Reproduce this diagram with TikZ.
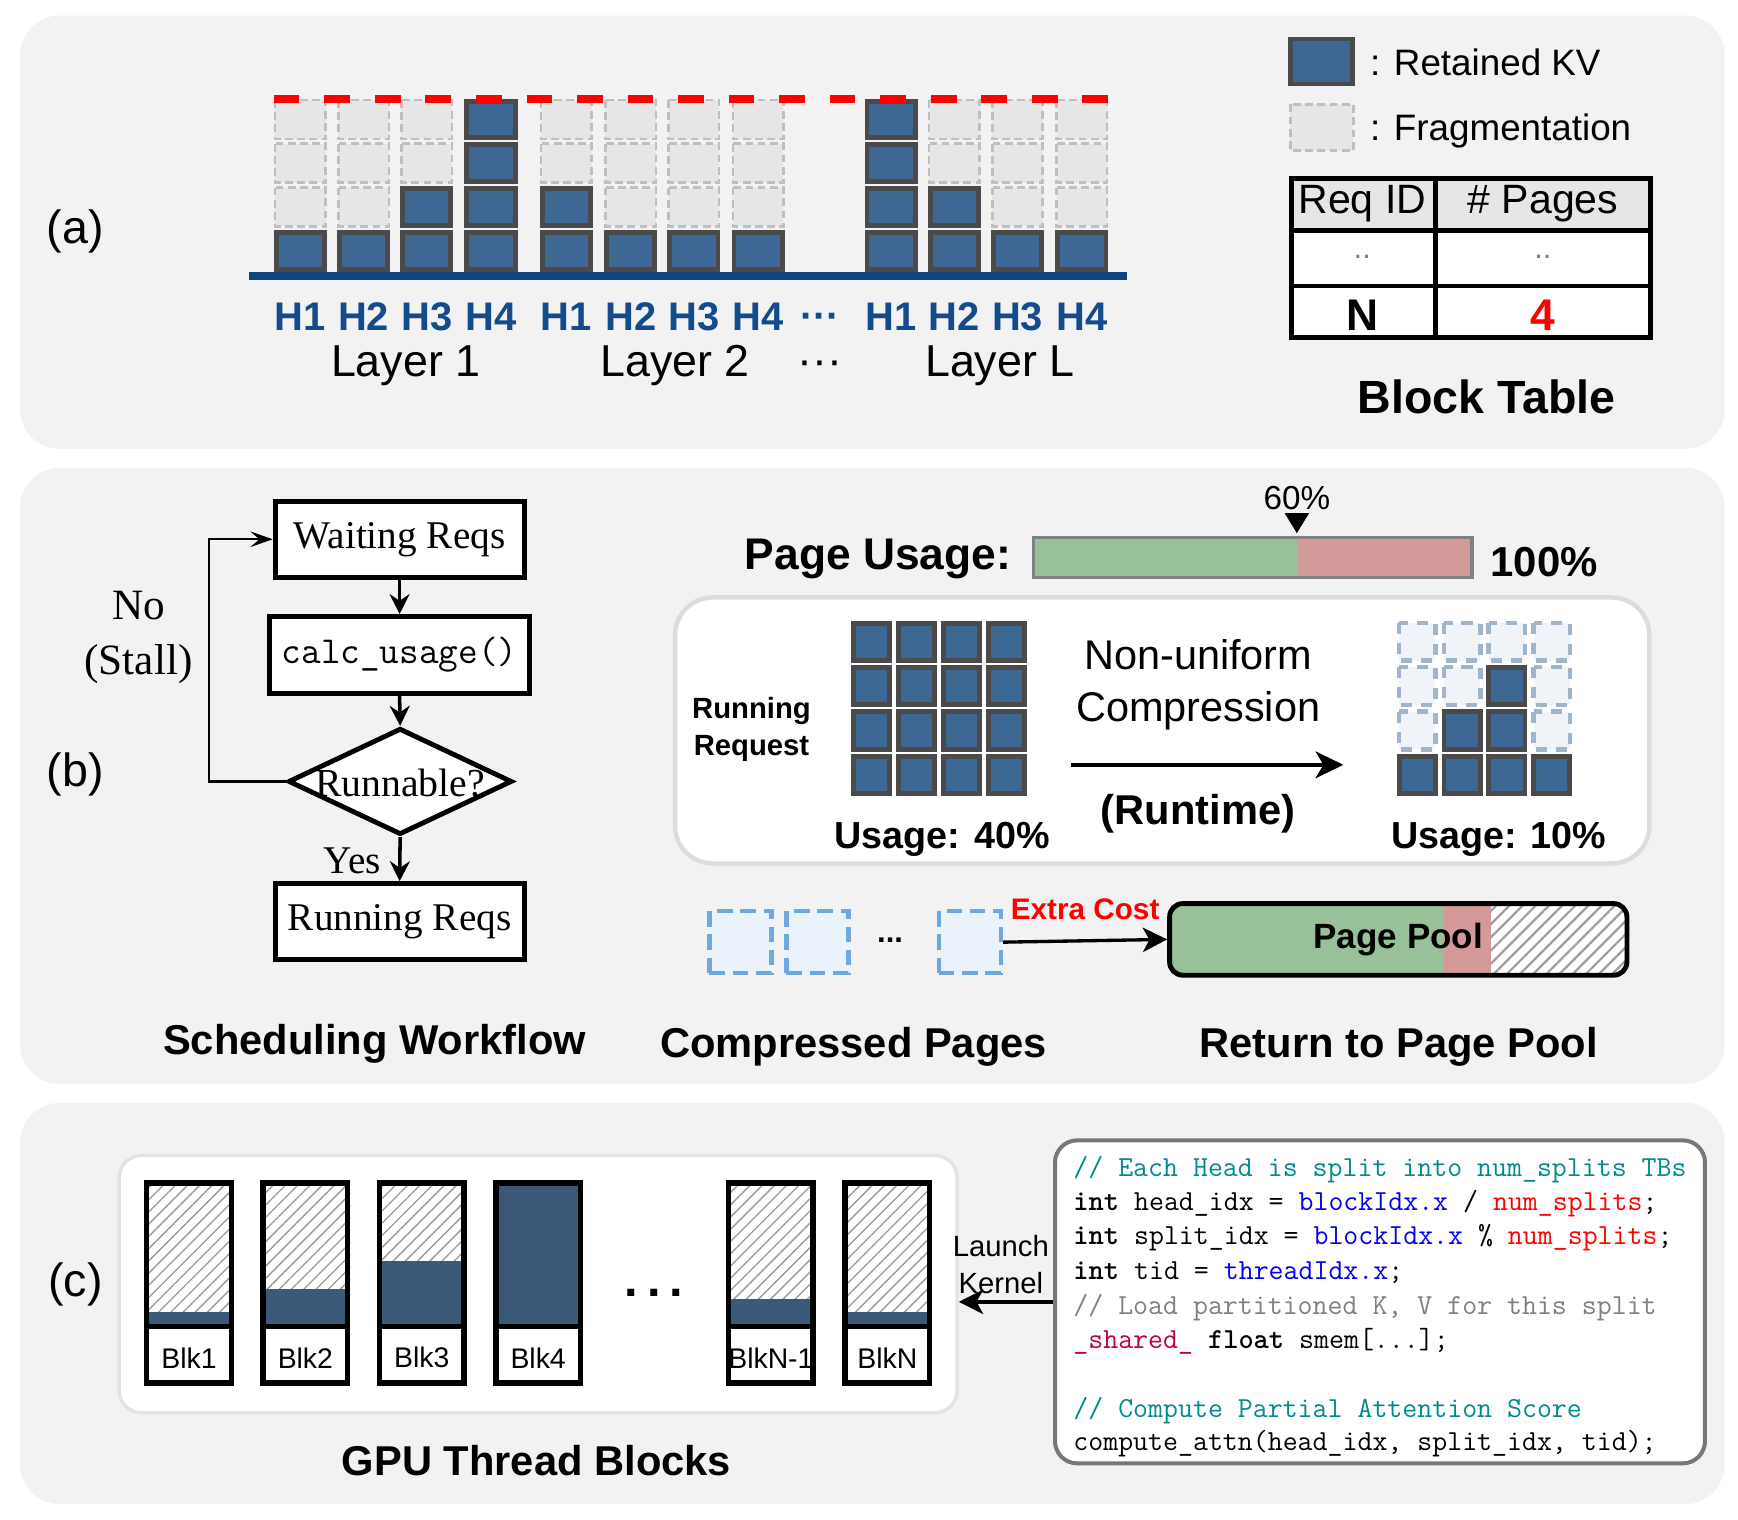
\documentclass[tikz,border=0pt]{standalone}
\usepackage{fontspec}
\setmainfont{Liberation Sans}
\newfontfamily\tmsfont{Liberation Serif}
\newfontfamily\cbold{lmmonolt10-bold.otf}
\usetikzlibrary{arrows.meta,shapes.geometric,patterns.meta}
\definecolor{panelbg}{HTML}{F2F2F2}
\definecolor{kvblue}{HTML}{3D6894}
\definecolor{kvborder}{HTML}{4A4A4A}
\definecolor{fraggray}{HTML}{E6E6E6}
\definecolor{fragborder}{HTML}{BFBFBF}
\definecolor{barblue}{HTML}{0E4580}
\definecolor{hblue}{HTML}{144B8C}
\definecolor{pgreen}{HTML}{99C199}
\definecolor{pred}{HTML}{D49999}
\definecolor{fragbfill}{HTML}{F0F3F7}
\definecolor{fragbborder}{HTML}{A0B4CC}
\definecolor{cpfill}{HTML}{EAF2FB}
\definecolor{cpborder}{HTML}{6FA8DC}
\definecolor{blkblue}{HTML}{3B5A78}
\definecolor{boxgray}{HTML}{DCDCDC}
\definecolor{codeborder}{HTML}{777777}
\definecolor{cteal}{HTML}{008B8B}
\definecolor{cblue}{HTML}{0000F0}
\definecolor{cred}{HTML}{FF0000}
\definecolor{cgray}{HTML}{808080}
\definecolor{ccrim}{HTML}{C0003C}
\newcommand\fsz[2]{\fontsize{#1}{#2}\selectfont}
\newcommand\kw[1]{{\cbold #1}}
\newcommand\kvcell[4]{\draw[kv] ({#1+2.2},{#2+2.2}) rectangle ({#1+#3-2.2},{#2+#4-2.2});}
\newcommand\fragcell[4]{\draw[frag] ({#1+1.2},{#2+1.2}) rectangle ({#1+#3-1.2},{#2+#4-1.2});}
\newcommand\fragcellb[4]{\draw[fragb] ({#1+2},{#2+2}) rectangle ({#1+#3-2},{#2+#4-2});}
\begin{document}
\begin{tikzpicture}[x=0.5pt,y=-0.5pt,
  panel/.style={fill=panelbg, rounded corners=18pt},
  kv/.style={fill=kvblue, draw=kvborder, line width=2.2pt},
  frag/.style={fill=fraggray, draw=fragborder, line width=1.2pt, dash pattern=on 3.5pt off 2pt},
  fragb/.style={fill=fragbfill, draw=fragbborder, line width=2pt, dash pattern=on 5pt off 4pt},
  reddash/.style={draw=red, line width=3.5pt, dash pattern=on 11.6pt off 11.2pt},
  hlab/.style={text=hblue, font=\bfseries\fsz{18}{21}},
  laylab/.style={font=\fsz{20.2}{24}},
  plab/.style={font=\fsz{21}{25}},
  ttl/.style={font=\bfseries\fsz{18.8}{22}},
  fbox/.style={draw, line width=2.2pt, fill=white, inner sep=0, font=\tmsfont\fsz{17.7}{20}},
  flarrow/.style={line width=1.6pt, -{Stealth[length=9pt,width=9pt,inset=3pt]}},
  flloop/.style={line width=1.1pt, -{Stealth[length=10pt,width=7pt,inset=4pt]}},
  bigarrow/.style={line width=2pt, -{Stealth[length=12.5pt,width=12pt,inset=3.5pt]}},
  midarrow/.style={line width=1.5pt, -{Stealth[length=11pt,width=11pt,inset=3pt]}},
  cpage/.style={draw=cpborder, fill=cpfill, line width=2pt, dash pattern=on 7pt off 3.5pt, minimum width=28pt, minimum height=28pt, inner sep=0},
  code/.style={anchor=base west, inner sep=0, font=\ttfamily\fsz{13.1}{15}}
]
\useasboundingbox (0,0) rectangle (1568,1371);
\fill[white] (0,0) rectangle (1568,1371);
% panels
\fill[panel] (18,14) rectangle (1556,405);
\fill[panel] (18,422) rectangle (1556,978);
\fill[panel] (18,995) rectangle (1556,1357);

% ---------------- (a)
\node[plab] (pa) at (68,209) {(a)};
\foreach \x/\n in {247/1,304/1,361/2,419/4,487/2,545/1,602/1,660/1,780/4,837/2,894/1,952/1}{
  \foreach \r in {1,2,3,4}{
    \pgfmathsetmacro\ty{207.5-(\r-1)*39.5}
    \ifnum\r>\n\relax \fragcell{\x}{\ty}{48}{37.5}\else\kvcell{\x}{\ty}{48}{37.5}\fi
  }
}
\fill[barblue] (225,245) rectangle (1017,253);
\draw[reddash] (247,89) -- (1005,89);
\foreach \x/\t/\nm in {271/H1/ha1,328/H2/ha2,385/H3/ha3,443/H4/ha4,511/H1/hb1,569/H2/hb2,626/H3/hb3,684/H4/hb4,804/H1/hc1,861/H2/hc2,918/H3/hc3,976/H4/hc4}{
  \node[hlab] (\nm) at (\x,286) {\t};
}
\node[hlab] (hdots) at (740,290) {···};
\node[laylab] (lay1) at (366,330) {Layer 1};
\node[laylab] (lay2) at (609,330) {Layer 2};
\node[laylab] (layL) at (902,330) {Layer L};
\node[laylab] (laydots) at (740,332) {···};
% legend
\draw[kv] (1164.2,35.2) rectangle (1219.8,75.8);
\node[anchor=west, font=\fsz{16.6}{20}] (lg1) at (1229,56) {: Retained KV};
\draw[frag] (1164.2,94.2) rectangle (1220.8,135.8);
\node[anchor=west, font=\fsz{16.6}{20}] (lg2) at (1229,118) {: Fragmentation};
% block table
\fill[fraggray] (1163,159) rectangle (1491,208);
\fill[white] (1163,208) rectangle (1491,307);
\draw[line width=2.2pt] (1165.2,161.2) rectangle (1488.8,304.8);
\draw[line width=2.2pt] (1295,159) -- (1295,307);
\draw[line width=2.2pt] (1163,208) -- (1491,208);
\draw[line width=2.2pt] (1163,258) -- (1491,258);
\node[font=\fsz{18.5}{22}] (bt11) at (1229,184) {Req ID};
\node[font=\fsz{18.5}{22}] (bt12) at (1392,184) {\# Pages};
\node[font=\fsz{14}{16}, text=gray] (bt21) at (1229,232) {..};
\node[font=\fsz{14}{16}, text=gray] (bt22) at (1392,232) {..};
\node[font=\bfseries\fsz{20}{24}] (bt31) at (1229,284) {N};
\node[font=\bfseries\fsz{20}{24}, text=red] (bt32) at (1392,284) {4};
\node[font=\bfseries\fsz{21}{25}] (btt) at (1341,358) {Block Table};

% ---------------- (b)
\node[plab] (pb) at (68,699) {(b)};
\node[fbox, minimum width=112.3pt, minimum height=34.3pt] (wait) at (360.5,486.5) {Waiting Reqs};
\node[fbox, minimum width=117.3pt, minimum height=34.8pt, font=\ttfamily\fsz{17.2}{20}] (calc) at (360.5,591) {calc\_usage()};
\node[diamond, draw, line width=2.2pt, fill=white, minimum width=101pt, minimum height=48pt, inner sep=0] (dia) at (361,705) {};
\node[font=\tmsfont\fsz{17.9}{20}, inner sep=0] (diat) at (361,706) {Runnable?};
\node[fbox, minimum width=112.3pt, minimum height=34.3pt] (run) at (360.5,831.5) {Running Reqs};
\draw[flarrow] (wait.south) -- (calc.north);
\draw[flarrow] (calc.south) -- (dia.north);
\draw[flarrow] (dia.south) -- (run.north);
\draw[flloop] (dia.west) -- ++(-69,0) |- (wait.west);
\node[font=\tmsfont\fsz{17.7}{20}] (yes) at (318,777) {Yes};
\node[font=\tmsfont\fsz{19.5}{24.5}, align=center] (nostall) at (125,575) {No\\(Stall)};
\node[ttl] (t1) at (338,942) {Scheduling Workflow};

% page usage
\node[font=\bfseries\fsz{20}{24}] (pu) at (792,504) {Page Usage:};
\fill[pgreen] (932,485) rectangle (1170,521);
\fill[pred] (1170,485) rectangle (1328,521);
\draw[draw=gray, line width=1.4pt] (932,485) rectangle (1328,521);
\node[font=\fsz{15}{18}] (p60) at (1170,449) {60\%};
\fill (1159,463) -- (1181,463) -- (1170,481) -- cycle;
\node[font=\bfseries\fsz{18.9}{22}] (p100) at (1393,507) {100\%};

% compression box
\draw[draw=boxgray, line width=2pt, fill=white, rounded corners=17pt] (609,539) rectangle (1488,779);
\node[font=\bfseries\fsz{13.2}{16.5}, align=center] (rr) at (678,658) {Running\\Request};
\foreach \c in {0,1,2,3}{
  \foreach \r in {0,1,2,3}{
    \kvcell{768+\c*40.5}{560+\r*40}{37}{38}
  }
}
\foreach \c/\r in {0/3,1/3,2/3,3/3,1/2,2/2,2/1}{
  \kvcell{1260+\c*40.5}{560+\r*40}{37}{38}
}
\foreach \c/\r in {0/0,1/0,2/0,3/0,0/1,1/1,3/1,0/2,3/2}{
  \fragcellb{1260+\c*40.5}{560+\r*40}{37}{38}
}
\node[font=\bfseries\fsz{17}{20}] (u40) at (850,757) {Usage: 40\%};
\node[font=\bfseries\fsz{17}{20}] (u10) at (1352,757) {Usage: 10\%};
\node[font=\fsz{18.7}{23.5}, align=center] (nuc) at (1081,618) {Non-uniform\\Compression};
\coordinate (ca1) at (966,690);
\coordinate (ca2) at (1212,690);
\draw[bigarrow] (ca1) -- (ca2);
\node[font=\bfseries\fsz{18.8}{22}] (rt) at (1081,734) {(Runtime)};

% compressed pages & pool
\node[cpage] (cp1) at (668,850) {};
\node[cpage] (cp2) at (737.5,850) {};
\node[cpage] (cp3) at (875,850) {};
\node[font=\bfseries\fsz{14}{16}] (cpd) at (803,848) {...};
\begin{scope}
  \clip[rounded corners=5pt] (1055,815) rectangle (1468,880);
  \fill[pgreen] (1053,813) rectangle (1303,882);
  \fill[pred] (1303,813) rectangle (1345,882);
  \fill[white] (1345,813) rectangle (1470,882);
  \fill[pattern={Lines[angle=45,distance=4.2pt,line width=1pt]}, pattern color=gray!75] (1345,813) rectangle (1470,882);
\end{scope}
\node[draw, line width=2.2pt, rounded corners=6pt, minimum width=206.3pt, minimum height=32.3pt, inner sep=0, font=\bfseries\fsz{15.8}{18}] (pool) at (1261.5,847.5) {Page Pool};
\draw[midarrow] (cp3.east) -- (pool.west);
\node[text=red, font=\bfseries\fsz{13.4}{16}] (ec) at (979,820) {Extra Cost};
\node[ttl] (t2) at (770,944) {Compressed Pages};
\node[ttl] (t3) at (1262,944) {Return to Page Pool};

% ---------------- (c)
\node[plab] (pc) at (68,1159) {(c)};
\node[draw=gray!22, line width=1.5pt, fill=white, rounded corners=10pt, minimum width=378pt, minimum height=116pt, inner sep=0] (gpubox) at (485.5,1158.5) {};
\foreach \x/\lvl/\lab/\nm in {130/1184/Blk1/bk1,235/1163/Blk2/bk2,340/1138/Blk3/bk3,445/1065/Blk4/bk4,655/1172/BlkN-1/bk5,760/1184/BlkN/bk6}{
  \fill[white] (\x,1065) rectangle ({\x+81},\lvl);
  \fill[pattern={Lines[angle=45,distance=3.9pt,line width=0.6pt]}, pattern color=gray!80] (\x,1065) rectangle ({\x+81},\lvl);
  \fill[blkblue] (\x,\lvl) rectangle ({\x+81},1197);
  \fill[white] (\x,1197) rectangle ({\x+81},1250);
  \draw[line width=2.4pt] ({\x+2.4},1067.4) rectangle ({\x+81-2.4},1247.6);
  \draw[line width=2.4pt] (\x,1197) -- ({\x+81},1197);
  \node[font=\fsz{12.8}{15}] (\nm) at ({\x+40.5},1225) {\lab};
}
\node[font=\bfseries\fsz{22}{24}] (gdots) at (590,1166) {.\hspace{4pt}.\hspace{4pt}.};
\node[draw=codeborder, line width=1.8pt, fill=white, rounded corners=10pt, minimum width=293.2pt, minimum height=145.7pt, inner sep=0] (codebox) at (1245,1174.5) {};
\node[code] (cl1) at (968,1061) {\textcolor{cteal}{// Each Head is split into num\_splits TBs}};
\node[code] (cl2) at (968,1092) {\kw{int} head\_idx = \textcolor{cblue}{blockIdx.x} / \textcolor{cred}{num\_splits};};
\node[code] (cl3) at (968,1123) {\kw{int} split\_idx = \textcolor{cblue}{blockIdx.x} \% \textcolor{cred}{num\_splits};};
\node[code] (cl4) at (968,1154) {\kw{int} tid = \textcolor{cblue}{threadIdx.x};};
\node[code] (cl5) at (968,1186) {\textcolor{cgray}{// Load partitioned K, V for this split}};
\node[code] (cl6) at (968,1217) {\textcolor{ccrim}{\_shared\_} \kw{float} smem[...];};
\node[code] (cl7) at (968,1279) {\textcolor{cteal}{// Compute Partial Attention Score}};
\node[code] (cl8) at (968,1309) {compute\_attn(head\_idx, split\_idx, tid);};
\node[font=\fsz{13.2}{16.5}, align=center] (lk) at (903,1141) {Launch\\Kernel};
\draw[midarrow] (codebox.west) -- (codebox.west -| gpubox.east);
\node[ttl] (t4) at (484,1318) {GPU Thread Blocks};
\end{tikzpicture}
\end{document}
